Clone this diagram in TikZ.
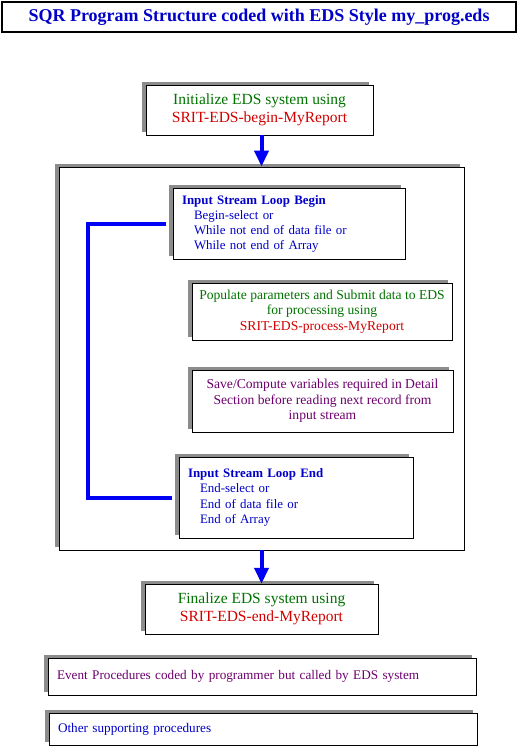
\documentclass[tikz,border=0pt]{standalone}
\usepackage{fontspec}
\setmainfont{Liberation Serif}
\usetikzlibrary{arrows.meta,positioning,shadows}

\definecolor{edsgreen}{RGB}{0,115,0}
\definecolor{edsred}{RGB}{210,0,0}
\definecolor{edsblue}{RGB}{0,0,200}
\definecolor{edspurple}{RGB}{110,0,110}
\definecolor{edsline}{RGB}{0,0,245}

\begin{document}
\begin{tikzpicture}[
    x=1pt,y=-1pt,
    font=\fontsize{13.6}{15.5}\selectfont,
    shade/.style={general shadow={shadow xshift=-4pt,shadow yshift=3pt,fill=gray!90,opacity=1}},
    box/.style={draw,fill=white,shade,inner sep=0pt,align=center},
    lbox/.style={box,align=left,inner xsep=9pt},
    >={Triangle[length=16pt,width=14pt]},
    flow/.style={->,line width=4pt,edsline},
    rail/.style={line width=4pt,edsline}
  ]
  \useasboundingbox (0,0) rectangle (518,746);

  \node[draw,line width=1.2pt,minimum width=514pt,minimum height=30pt,
        font=\fontsize{18}{20}\selectfont\bfseries,text=edsblue] (title) at (259,17)
       {SQR Program Structure coded with EDS Style my\_prog.eds};

  \node[box,minimum width=227pt,minimum height=50pt,font=\fontsize{15.5}{18}\selectfont] (init) at (259.5,110)
       {\textcolor{edsgreen}{Initialize EDS system using}\\\textcolor{edsred}{SRIT-EDS-begin-MyReport}};

  \node[box,line width=0.9pt,minimum width=405pt,minimum height=383pt] (outer) at (261.5,358.5) {};

  \node[lbox,minimum width=232pt,minimum height=71pt,text width=214pt,text=edsblue,
        font=\fontsize{12.9}{15}\selectfont] (loopbegin) at (289,223.5)
       {\textbf{Input Stream Loop Begin}\\
        \hspace*{12pt}Begin-select or\\
        \hspace*{12pt}While not end of data file or\\
        \hspace*{12pt}While not end of Array};

  \node[box,minimum width=260pt,minimum height=57pt] (populate) at (322,311.5)
       {\textcolor{edsgreen}{Populate parameters and Submit data to EDS}\\
        \textcolor{edsgreen}{for processing using}\\
        \textcolor{edsred}{SRIT-EDS-process-MyReport}};

  \node[box,minimum width=261pt,minimum height=62pt,text=edspurple] (save) at (322.5,401)
       {Save/Compute variables required in Detail\\
        Section before reading next record from\\
        input stream};

  \node[lbox,minimum width=234pt,minimum height=81pt,text width=216pt,text=edsblue,
        font=\fontsize{12.9}{15.5}\selectfont] (loopend) at (296,497.5)
       {\textbf{Input Stream Loop End}\\
        \hspace*{12pt}End-select or\\
        \hspace*{12pt}End of data file or\\
        \hspace*{12pt}End of Array};

  \node[box,minimum width=233pt,minimum height=50pt,font=\fontsize{15.5}{18}\selectfont] (final) at (261.5,609)
       {\textcolor{edsgreen}{Finalize EDS system using}\\\textcolor{edsred}{SRIT-EDS-end-MyReport}};

  \node[lbox,minimum width=426pt,minimum height=37pt,text width=410pt,text=edspurple,
        font=\fontsize{13.2}{15}\selectfont] (event) at (262,676.5)
       {Event Procedures coded by programmer but called by EDS system\\[7pt]};

  \node[lbox,minimum width=426pt,minimum height=32pt,text width=410pt,text=edsblue,
        font=\fontsize{13.2}{15}\selectfont] (other) at (263,729)
       {Other supporting procedures\\[1pt]};

  % main flow through the program
  \draw[flow] (init.south -| outer.north) -- (outer.north);
  \draw[flow] (outer.south) -- (final.north -| outer.south);

  % input stream loop rail
  \draw[rail,shorten <=7pt,shorten >=7pt] (loopbegin.west) -- ++(-85,0) |- (loopend.west);
\end{tikzpicture}
\end{document}
